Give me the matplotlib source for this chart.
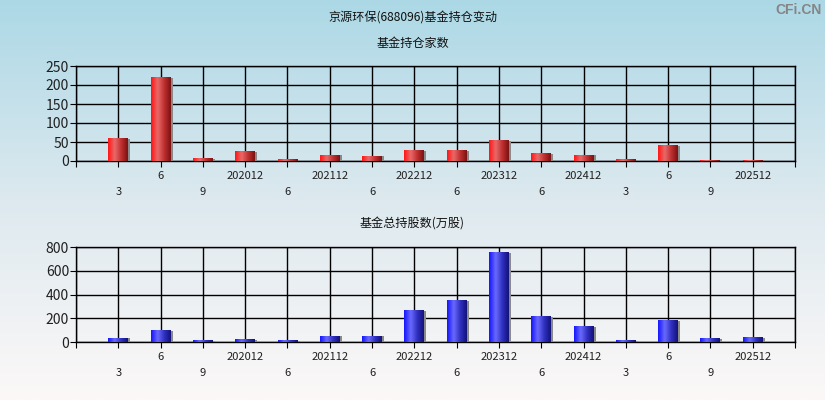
import numpy as np
import matplotlib.pyplot as plt
from matplotlib.colors import LinearSegmentedColormap

plt.rcParams['font.family'] = ['Noto Sans CJK SC', 'DejaVu Sans']

# quarters shown on the x axis
periods = ['2020-03', '2020-06', '2020-09', '2020-12', '2021-06', '2021-12',
           '2022-06', '2022-12', '2023-06', '2023-12', '2024-06', '2024-12',
           '2025-03', '2025-06', '2025-09', '2025-12']
tick_labels = ['3', '6', '9', '202012', '6', '202112', '6', '202212',
               '6', '202312', '6', '202412', '3', '6', '9', '202512']
fund_count = [59, 219, 6, 24, 3, 15, 12, 27, 27, 53, 19, 15, 3, 40, 2, 2]
fund_shares = [31, 95, 11, 20, 11, 48, 48, 264, 348, 752, 213, 129, 11, 180, 28, 36]

title = '京源环保(688096)基金持仓变动'
sub_top = '基金持仓家数'
sub_bottom = '基金总持股数(万股)'

red_cmap = LinearSegmentedColormap.from_list(
    'red_bar', ['#ff1414', '#e86a6a', '#c03030', '#7a1212'])
blue_cmap = LinearSegmentedColormap.from_list(
    'blue_bar', ['#1414ff', '#6a6aff', '#3030c0', '#12127a'])


def draw_bars(ax, values, cmap, ymax, yticks):
    xs = np.arange(1, len(values) + 1)
    width = 0.47
    grad = np.linspace(0, 1, 64).reshape(1, -1)
    shadow_w = 0.05
    for x, v in zip(xs, values):
        x0, x1 = x - width / 2, x + width / 2
        ax.bar(x1 + shadow_w / 2, v, width=shadow_w, color='#8a8a8a', zorder=3)
        ax.imshow(grad, cmap=cmap, extent=(x0, x1, 0, v), aspect='auto',
                  zorder=3, interpolation='bicubic')
    ax.set_xlim(0, len(values) + 1)
    ax.set_ylim(0, ymax)
    ax.set_yticks(yticks)
    ax.set_xticks(np.arange(0, len(values) + 2))
    ax.set_xticklabels([])
    ax.set_facecolor('none')
    ax.grid(True, color='black', linewidth=1, zorder=1)
    ax.set_axisbelow(True)
    for s in ax.spines.values():
        s.set_color('black')
        s.set_linewidth(1)
    ax.tick_params(axis='x', direction='out', length=4, color='black')
    ax.tick_params(axis='y', direction='out', length=4, color='black',
                   labelsize=10, pad=1, labelcolor='#202020')
    for i, lab in enumerate(tick_labels):
        row_y = -0.16 if i % 2 == 1 else -0.33
        ax.text(xs[i], row_y, lab, transform=ax.get_xaxis_transform(),
                ha='center', va='center', fontsize=8, color='#202020')


fig = plt.figure(figsize=(8.25, 4.0), dpi=100)

# background gradient
bg = fig.add_axes([0, 0, 1, 1], zorder=-10)
bg_cmap = LinearSegmentedColormap.from_list('bg', ['#acd8e6', '#dde9ef', '#fcf8f8'])
bg.imshow(np.linspace(0, 1, 256).reshape(-1, 1), cmap=bg_cmap, aspect='auto',
          extent=(0, 1, 0, 1))
bg.set_axis_off()

ax1 = fig.add_axes([0.0921, 0.5975, 0.8715, 0.2375])
ax2 = fig.add_axes([0.0921, 0.145, 0.8715, 0.2375])

draw_bars(ax1, fund_count, red_cmap, 250, [0, 50, 100, 150, 200, 250])
draw_bars(ax2, fund_shares, blue_cmap, 800, [0, 200, 400, 600, 800])

fig.text(0.5, 1 - 18 / 400, title, ha='center', va='center', fontsize=8.7, color='#111111')
fig.text(0.5, 1 - 43 / 400, sub_top, ha='center', va='center', fontsize=8.7, color='#111111')
fig.text(0.5, 1 - 224 / 400, sub_bottom, ha='center', va='center', fontsize=8.7, color='#111111')
fig.text(0.996, 1 - 10 / 400, 'CFi.CN', ha='right', va='center', fontsize=10,
         fontweight='bold', color='#858585', family='Liberation Sans')

fig.savefig('out.png', dpi=100)
